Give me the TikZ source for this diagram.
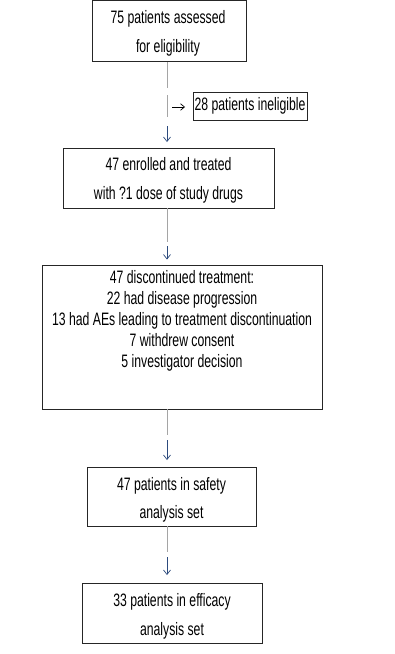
\documentclass[tikz,border=0pt]{standalone}
\usepackage{fontspec}
\setmainfont{Liberation Sans}[FakeStretch=0.68]
\usetikzlibrary{arrows.meta}
\definecolor{linegray}{RGB}{165,165,165}
\definecolor{arrblue}{RGB}{45,75,125}
\begin{document}
\begin{tikzpicture}[x=1pt,y=-1pt,
  box/.style={draw=black!85, line width=0.9pt, inner sep=0pt, fill=none},
  txt/.style={align=center, font=\fontsize{18}{28.5}\selectfont, inner sep=0pt},
  txttight/.style={align=center, font=\fontsize{18}{21}\selectfont, inner sep=0pt},
  gline/.style={draw=linegray, line width=0.8pt},
  darr/.style={draw=arrblue, line width=0.7pt, -{Straight Barb[length=4.5pt,width=7pt]}},
  harr/.style={draw=black, line width=0.7pt, -{Straight Barb[length=4pt,width=6.5pt]}}]
\useasboundingbox (0,0) rectangle (395,654);
% boxes
\node[box, minimum width=154pt, minimum height=61pt] (b1) at (169,31) {};
\node[txt] (t1) at (168,33.5) {75 patients assessed\\for eligibility};
\node[box, minimum width=114pt, minimum height=28pt] (inel) at (250,106) {};
\node[txt] (ti) at (inel) {28 patients ineligible};
\node[box, minimum width=211pt, minimum height=60pt] (b2) at (168.5,178) {};
\node[txt] (t2) at (168.5,180.5) {47 enrolled and treated\\with ?1 dose of study drugs};
\node[box, minimum width=280pt, minimum height=144pt] (b3) at (182,337) {};
\node[txttight] (t3) at (182,320.5) {47 discontinued treatment:\\22 had disease progression\\13 had AEs leading to treatment discontinuation\\7 withdrew consent\\5 investigator decision};
\node[box, minimum width=169pt, minimum height=59pt] (b4) at (171.5,496.5) {};
\node[txt] (t4) at (171.5,500) {47 patients in safety\\analysis set};
\node[box, minimum width=180pt, minimum height=60pt] (b5) at (172,613) {};
\node[txt] (t5) at (172,616.5) {33 patients in efficacy\\analysis set};
% connector coordinates
\coordinate (g1) at (167,88);
\coordinate (g2) at (167,95);
\coordinate (g3) at (167,117);
\coordinate (a1) at (167,126);
\coordinate (h1) at (172,107);
\coordinate (g4) at (167,242);
\coordinate (a2) at (167,246);
\coordinate (g5) at (167,435);
\coordinate (a3) at (167,440);
\coordinate (g6) at (167,552);
\coordinate (a4) at (167,557);
% connectors
\draw[gline] (b1.south -| g1) -- (g1);
\draw[gline] (g2) -- (g3);
\draw[darr, shorten >=5.5pt] (a1) -- (a1 |- b2.north);
\draw[harr, shorten >=7.5pt] (h1) -- (h1 -| inel.west);
\draw[gline] (b2.south -| g4) -- (g4);
\draw[darr, shorten >=5pt] (a2) -- (a2 |- b3.north);
\draw[gline] (b3.south -| g5) -- (g5);
\draw[darr, shorten >=6.5pt] (a3) -- (a3 |- b4.north);
\draw[gline] (b4.south -| g6) -- (g6);
\draw[darr, shorten >=7.5pt] (a4) -- (a4 |- b5.north);
\end{tikzpicture}
\end{document}
